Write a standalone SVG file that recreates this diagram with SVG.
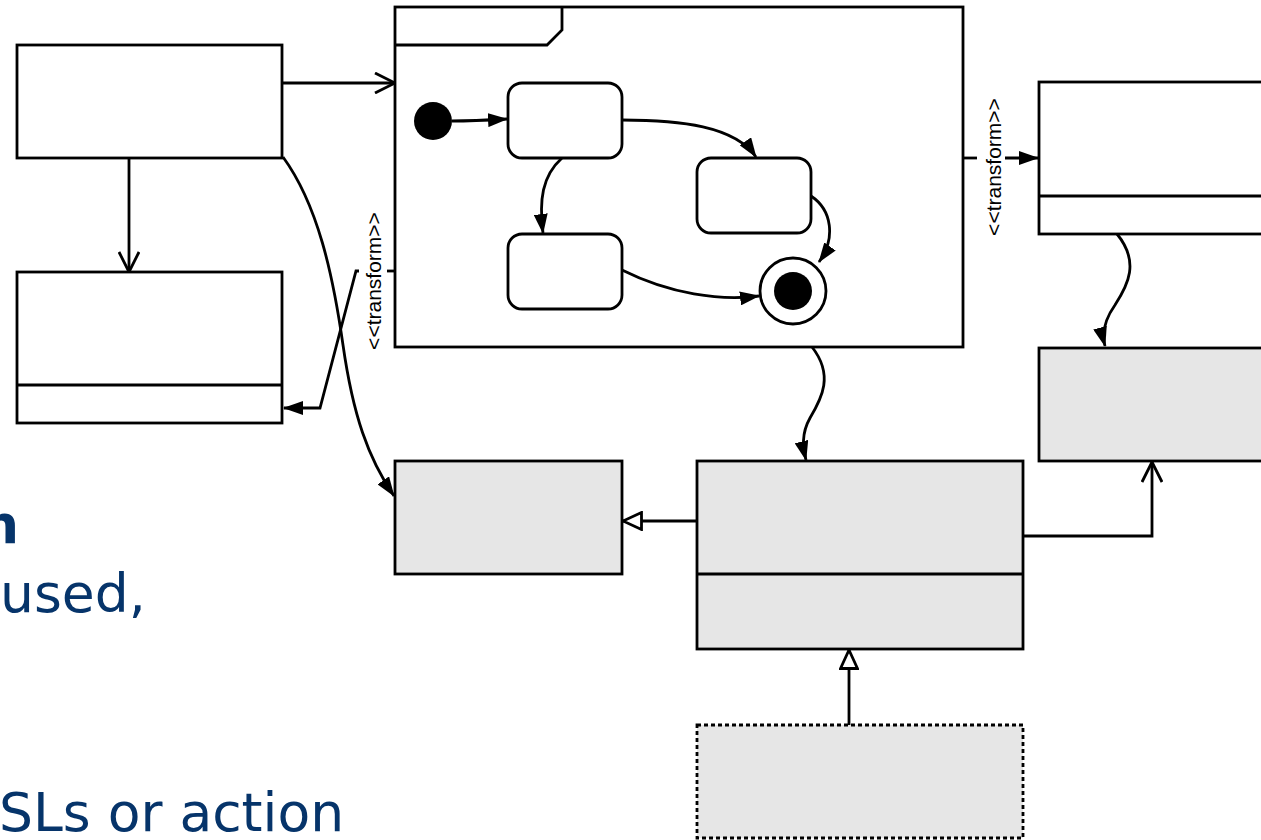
<svg xmlns="http://www.w3.org/2000/svg" width="1261" height="840" viewBox="0 0 1261 840">
<style>
.box{fill:#fff;stroke:#000;stroke-width:2.8}
.grey{fill:#e6e6e6;stroke:#000;stroke-width:2.8}
.dash{fill:#e6e6e6;stroke:#000;stroke-width:2.8;stroke-dasharray:4 3}
.ln{fill:none;stroke:#000;stroke-width:2.8}
.st{fill:#fff;stroke:#000;stroke-width:2.8}
.lbl{font-family:"Liberation Sans",Arial,sans-serif;font-size:21px;fill:#000}
.txt{font-family:"DejaVu Sans",Verdana,sans-serif;font-size:53.5px;fill:#06346a}
</style>
<defs>
<marker id="fill" viewBox="0 0 20 14" refX="19" refY="7" markerWidth="20" markerHeight="14" orient="auto" markerUnits="userSpaceOnUse"><path d="M0,0 L20,7 L0,14 z" fill="#000"/></marker>
<marker id="open" viewBox="0 0 22 22" refX="21" refY="11" markerWidth="22" markerHeight="22" orient="auto" markerUnits="userSpaceOnUse"><path d="M1,1 L21,11 L1,21" fill="none" stroke="#000" stroke-width="2.8"/></marker>
<marker id="gen" viewBox="0 0 22 20" refX="20" refY="10" markerWidth="22" markerHeight="20" orient="auto" markerUnits="userSpaceOnUse"><path d="M1.5,1.5 L20,10 L1.5,18.5 z" fill="#fff" stroke="#000" stroke-width="2.8"/></marker>
</defs>

<g id="text">
<text class="txt" x="19" y="543" text-anchor="end" font-weight="bold">n</text>
<text class="txt" x="0" y="612">used,</text>
<text class="txt" x="-1" y="831">SLs or action</text>
</g>

<g id="boxA"><rect class="box" x="17" y="45" width="265" height="113"/></g>
<g id="boxB"><rect class="box" x="17" y="272" width="265" height="151"/><line class="ln" x1="17" y1="385" x2="282" y2="385"/></g>

<g id="frame">
<rect class="box" x="395" y="7" width="568" height="340"/>
<path class="ln" d="M395,45 H547 L562,30 V7"/>
</g>
<g id="initial"><circle cx="433" cy="121" r="19" fill="#000"/></g>
<g id="state1"><rect class="st" x="508" y="83" width="114" height="75" rx="14"/></g>
<g id="state2"><rect class="st" x="697" y="158" width="114" height="75" rx="14"/></g>
<g id="state3"><rect class="st" x="508" y="234" width="114" height="75" rx="14"/></g>
<g id="final"><circle cx="793" cy="291" r="33" fill="#fff" stroke="#000" stroke-width="2.8"/><circle cx="793" cy="291" r="19" fill="#000"/></g>

<g id="boxC"><rect class="box" x="1039" y="82" width="240" height="152"/><line class="ln" x1="1039" y1="196" x2="1279" y2="196"/></g>
<g id="boxD"><rect class="grey" x="1039" y="348" width="240" height="113"/></g>
<g id="boxE"><rect class="grey" x="395" y="461" width="227" height="113"/></g>
<g id="boxF"><rect class="grey" x="697" y="461" width="326" height="188"/><line class="ln" x1="697" y1="574" x2="1023" y2="574"/></g>
<g id="boxG"><rect class="dash" x="697" y="725" width="326" height="113"/></g>

<g id="labels">
<text class="lbl" transform="translate(381,281) rotate(-90)" text-anchor="middle">&lt;&lt;transform&gt;&gt;</text>
<text class="lbl" transform="translate(1001,167) rotate(-90)" text-anchor="middle">&lt;&lt;transform&gt;&gt;</text>
</g>

<g id="connectors">
<line class="ln" x1="282" y1="83" x2="395" y2="83" marker-end="url(#open)"/>
<line class="ln" x1="129" y1="158" x2="129" y2="272" marker-end="url(#open)"/>
<path class="ln" d="M283,157 C318,205 333,275 343,345 C353,415 368,458 394,496" marker-end="url(#fill)"/>
<line class="ln" x1="387" y1="271" x2="395" y2="271"/>
<path class="ln" d="M359,271 H356 L320,408 H284" marker-end="url(#fill)"/>
<line class="ln" x1="963" y1="158" x2="977" y2="158"/>
<line class="ln" x1="1005" y1="158" x2="1038" y2="158" marker-end="url(#fill)"/>
<path class="ln" d="M1117,234 C1140,262 1128,285 1115,305 C1103,322 1102,335 1105,346" marker-end="url(#fill)"/>
<path class="ln" d="M812,347 C834,375 822,398 810,418 C801,434 803,448 806,460" marker-end="url(#fill)"/>
<line class="ln" x1="697" y1="521" x2="623" y2="521" marker-end="url(#gen)"/>
<line class="ln" x1="849" y1="725" x2="849" y2="650" marker-end="url(#gen)"/>
<path class="ln" d="M1023,536 H1152 V462" marker-end="url(#open)"/>
<path class="ln" d="M452,121 C470,121 490,120 507,119" marker-end="url(#fill)"/>
<path class="ln" d="M622,120 C680,120 735,126 756,157" marker-end="url(#fill)"/>
<path class="ln" d="M562,158 C542,176 539,200 543,233" marker-end="url(#fill)"/>
<path class="ln" d="M811,196 C832,210 836,238 819,262" marker-end="url(#fill)"/>
<path class="ln" d="M622,270 C670,294 720,301 759,296" marker-end="url(#fill)"/>
</g>
</svg>
